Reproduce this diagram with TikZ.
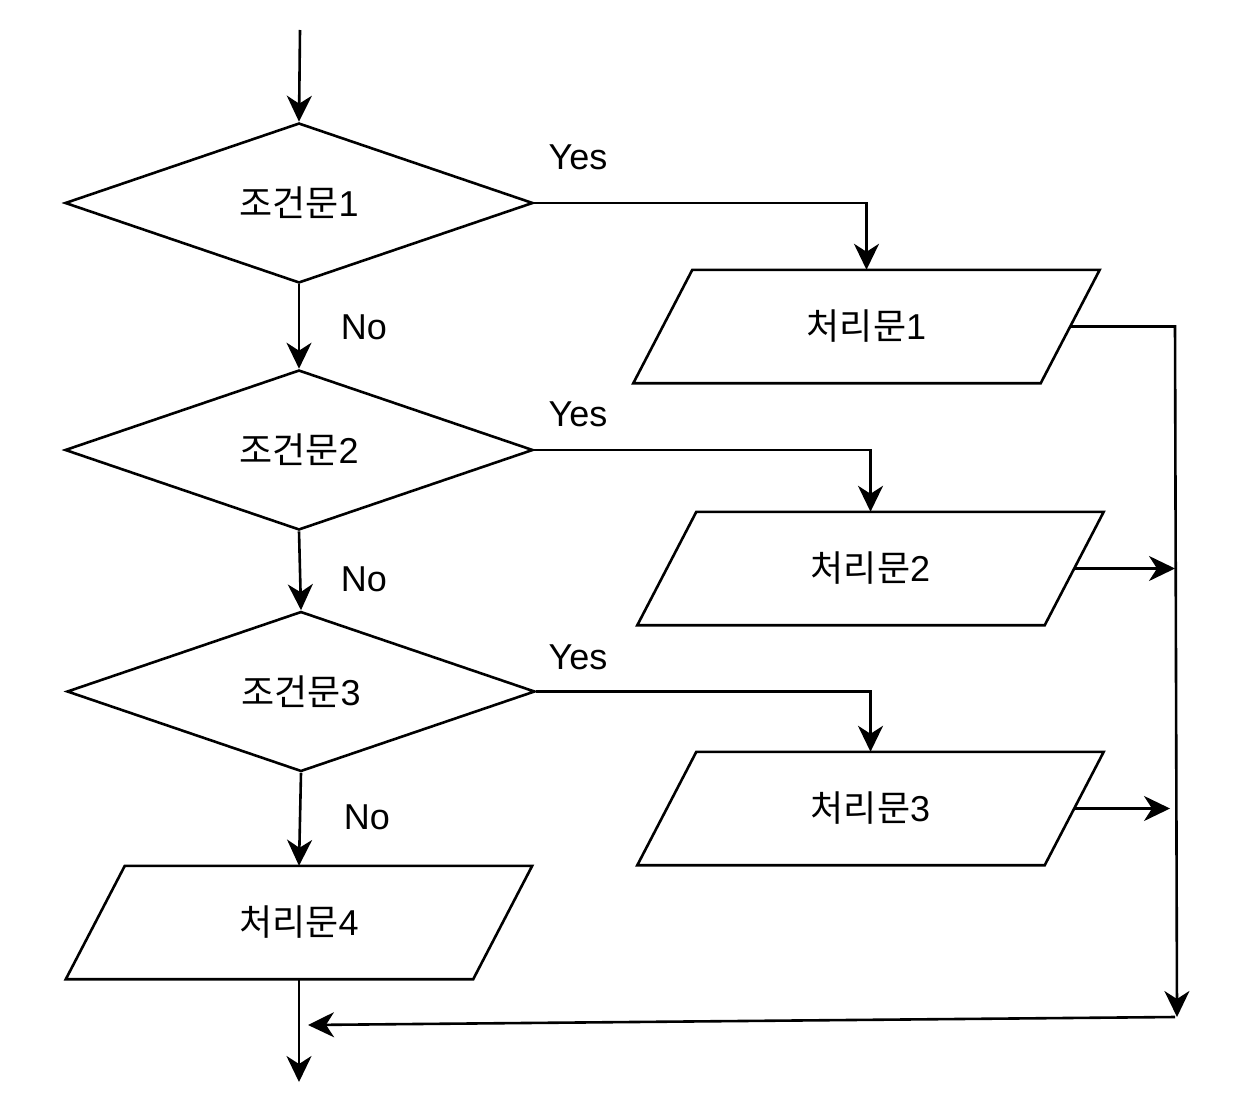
\documentclass[tikz,border=0pt]{standalone}
\usepackage{fontspec}
\setmainfont{Liberation Sans}
\newfontfamily\kr{Noto Sans CJK KR}
\usetikzlibrary{shapes.geometric,arrows.meta}
\tikzset{
  base/.style={line width=2.6pt, line join=miter},
  arr/.style={base, -{Stealth[length=26pt,width=25pt,inset=8pt]}},
  txt/.style={font=\fontsize{36}{42}\selectfont},
  dia/.style={diamond, draw, base, txt, shape aspect=2.925, minimum width=468pt, minimum height=160pt, inner sep=0pt},
  para/.style={txt, minimum width=407pt, minimum height=113pt, inner sep=0pt},
  lbl/.style={txt, inner sep=0pt}
}
\begin{document}
\begin{tikzpicture}[x=1pt,y=-1pt]
\useasboundingbox (0,0) rectangle (1249,1118);
\node[dia] (d1) at (299,203) {\raisebox{3pt}{{\kr 조건문}1}};
\node[dia] (d2) at (299,450) {\raisebox{3pt}{{\kr 조건문}2}};
\node[dia] (d3) at (301,691.5) {\raisebox{2pt}{{\kr 조건문}3}};
\node[para] (p1) at (866.5,326.5) {{\kr 처리문}1};
\node[para] (p2) at (870.5,568.5) {\raisebox{2pt}{{\kr 처리문}2}};
\node[para] (p3) at (870.5,808.5) {\raisebox{2pt}{{\kr 처리문}3}};
\node[para] (p4) at (299,922.5) {{\kr 처리문}4};
\foreach \p in {p1,p2,p3,p4}{
  \draw[base] ([xshift=29.5pt]\p.north west) -- ([xshift=29.5pt]\p.north east) -- ([xshift=-29.5pt]\p.south east) -- ([xshift=-29.5pt]\p.south west) -- cycle;
}
\node[lbl] (y1) at (578,157) {Yes};
\node[lbl] (y2) at (578,414) {Yes};
\node[lbl] (y3) at (578,657) {Yes};
\node[lbl] (n1) at (364,327) {No};
\node[lbl] (n2) at (364,579) {No};
\node[lbl] (n3) at (367,817) {No};
\coordinate (start) at (300,30);
\coordinate (c1) at (1175,326.5);
\coordinate (c2) at (1175,568.5);
\coordinate (c3) at (1170,808.5);
\coordinate (c4) at (1177,1017);
\coordinate (c5) at (1175,1017);
\coordinate (m) at (308,1025);
\coordinate (end) at (299,1082);
\draw[arr] (start) -- (d1.north);
\draw[arr] (d1.south) -- (d2.north);
\draw[arr] (d2.south) -- (d3.north);
\draw[arr] (d3.south) -- (p4.north);
\draw[arr] (d1.east) -| (p1.north);
\draw[arr] (d2.east) -| (p2.north);
\draw[arr] (d3.east) -| (p3.north);
\draw[arr] (p1.east) -- (c1) -- (c4);
\draw[arr] (p2.east) -- (c2);
\draw[arr] (p3.east) -- (c3);
\draw[arr] (c5) -- (m);
\draw[arr] (p4.south) -- (end);
\end{tikzpicture}
\end{document}
